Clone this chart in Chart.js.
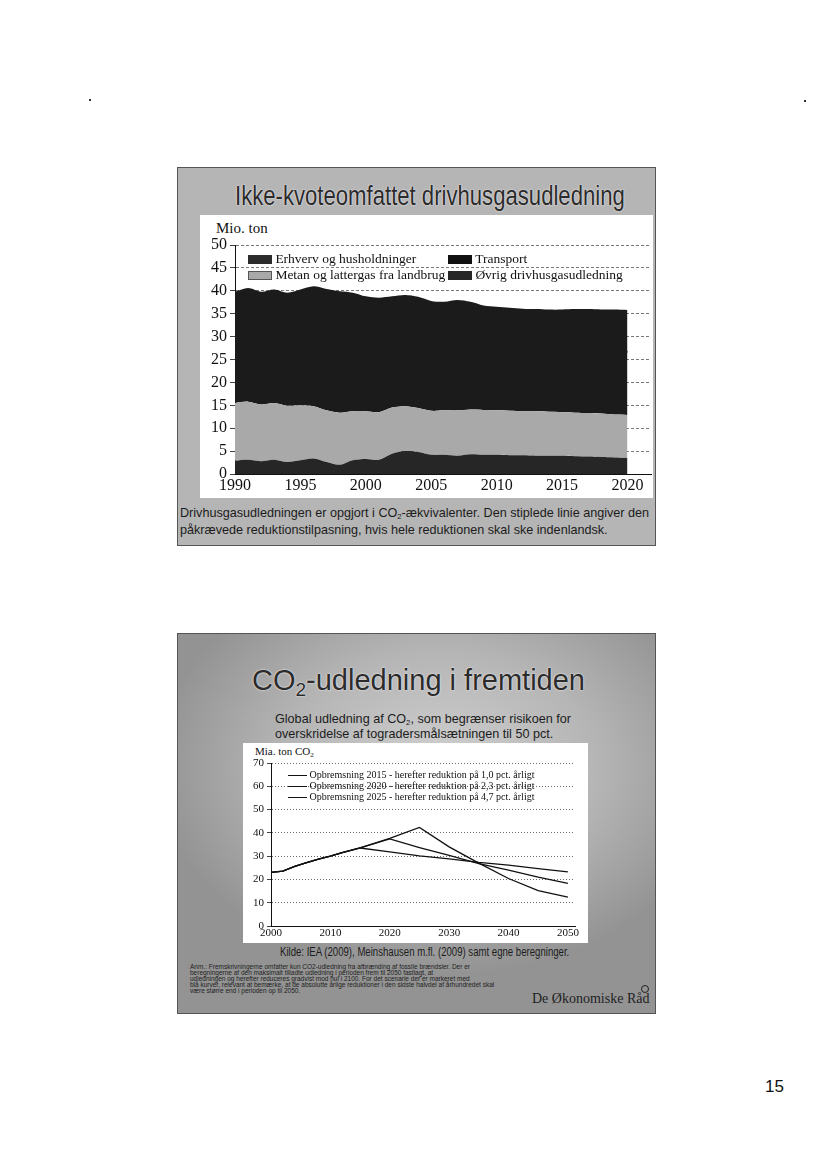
<!DOCTYPE html>
<html>
<head>
<meta charset="utf-8">
<script src="https://cdn.jsdelivr.net/npm/chart.js@4"></script>
<style>
  body { margin: 0; width: 825px; height: 1168px; background: #fff; position: relative; overflow: hidden; font-family: "Liberation Sans", Arial, sans-serif; }
  .abs { position: absolute; }
  .slide1 { left: 177px; top: 167px; width: 479px; height: 379px; background: #b5b5b5; border: 1px solid #555; box-sizing: border-box; }
  .slide2 { left: 177px; top: 633px; width: 479px; height: 381px; border: 1px solid #555; box-sizing: border-box;
    background: radial-gradient(ellipse 60% 55% at 55% 35%, #d0d0d0 0%, #b5b5b5 55%, #939393 100%); }
  .title { color: #2b2b2b; text-shadow: 0 0 2px #eee, 0 0 1px #eee; white-space: nowrap; }
  .white { background: #fff; }
  .serif { font-family: "Liberation Serif", "Times New Roman", serif; color: #111; white-space: nowrap; }
  .sw { display: inline-block; vertical-align: middle; }
  .note { color: #1c1c1c; white-space: nowrap; }
  sub { line-height: 0; vertical-align: -0.3em; }
</style>
</head>
<body>
<!-- slide 1 -->
<div class="abs slide1"></div>
<div class="abs title" style="left:235px;top:180px;font-size:28px;transform:scaleX(0.79);transform-origin:left top;">Ikke-kvoteomfattet drivhusgasudledning</div>
<div class="abs white" style="left:200px;top:215px;width:453px;height:283px;"></div>
<div class="abs serif" style="left:216px;top:220px;font-size:15px;">Mio. ton</div>
<div class="abs" style="left:200px;top:215px;width:453px;height:283px;"><canvas id="topChart"></canvas></div>
<div class="abs serif" style="left:248px;top:251px;font-size:13.5px;line-height:16px;">
  <div><span class="sw" style="width:24px;height:9px;background:#2c2c2c;"></span> Erhverv og husholdninger</div>
  <div><span class="sw" style="width:24px;height:9px;background:#a9a9a9;border:1px solid #555;box-sizing:border-box;"></span> Metan og lattergas fra landbrug</div>
</div>
<div class="abs serif" style="left:448px;top:251px;font-size:13.5px;line-height:16px;">
  <div><span class="sw" style="width:24px;height:9px;background:#111;"></span> Transport</div>
  <div><span class="sw" style="width:24px;height:9px;background:#262626;"></span> Øvrig drivhusgasudledning</div>
</div>
<div class="abs note" style="left:180px;top:504px;font-size:13px;line-height:17px;transform:scaleX(0.97);transform-origin:left top;">Drivhusgasudledningen er opgjort i CO<sub style="font-size:8px">2</sub>-ækvivalenter. Den stiplede linie angiver den<br>påkrævede reduktionstilpasning, hvis hele reduktionen skal ske indenlandsk.</div>

<!-- slide 2 -->
<div class="abs slide2"></div>
<div class="abs title" style="left:252px;top:664px;font-size:29px;">CO<sub style="font-size:19px">2</sub>-udledning i fremtiden</div>
<div class="abs note" style="left:275px;top:711px;font-size:13px;line-height:15px;transform:scaleX(0.97);transform-origin:left top;">Global udledning af CO<sub style="font-size:8px">2</sub>, som begrænser risikoen for<br>overskridelse af togradersmålsætningen til 50 pct.</div>
<div class="abs white" style="left:243px;top:743px;width:345px;height:200px;"></div>
<div class="abs serif" style="left:255px;top:745px;font-size:11px;">Mia. ton CO<sub style="font-size:7px">2</sub></div>
<div class="abs" style="left:243px;top:743px;width:345px;height:200px;"><canvas id="botChart"></canvas></div>
<div class="abs serif" style="left:288px;top:769px;font-size:10px;line-height:11px;">
  <div><span class="sw" style="width:19px;height:1.5px;background:#111;"></span> Opbremsning 2015 - herefter reduktion på 1,0 pct. årligt</div>
  <div><span class="sw" style="width:19px;height:1.5px;background:#111;"></span> Opbremsning 2020 - herefter reduktion på 2,3 pct. årligt</div>
  <div><span class="sw" style="width:19px;height:1.5px;background:#111;"></span> Opbremsning 2025 - herefter reduktion på 4,7 pct. årligt</div>
</div>
<div class="abs note" style="left:280px;top:945px;font-size:12px;transform:scaleX(0.80);transform-origin:left top;">Kilde: IEA (2009), Meinshausen m.fl. (2009) samt egne beregninger.</div>
<div class="abs" style="left:190px;top:964px;font-size:6.5px;line-height:6px;color:#222;white-space:nowrap;">
  Anm.: Fremskrivningerne omfatter kun CO2-udledning fra afbrænding af fossile brændsler. Der er<br>
  beregningerne af den maksimalt tilladte udledning i perioden frem til 2050 fastlagt, at<br>
  udledningen og herefter reduceres gradvist mod nul i 2100. For det scenarie der er markeret med<br>
  blå kurver, relevant at bemærke, at de absolutte årlige reduktioner i den sidste halvdel af århundredet skal<br>
  være større end i perioden op til 2050.
</div>
<div class="abs serif" style="left:532px;top:991px;font-size:14px;color:#222;">De Økonomiske Råd</div>
<div class="abs" style="left:641px;top:985px;width:6px;height:6px;border:1.5px solid #222;border-radius:50%;"></div>

<div class="abs" style="left:765px;top:1077px;font-size:17px;color:#111;">15</div>
<div class="abs" style="left:89px;top:99px;width:2px;height:2px;background:#333;"></div>
<div class="abs" style="left:804px;top:100px;width:2px;height:2px;background:#333;"></div>

<script>
// top chart: ikke-kvoteomfattet udledning, mio. ton
const years = [1990, 1991, 1992, 1993, 1994, 1995, 1996, 1997, 1998, 1999, 2000, 2001, 2002, 2003, 2004, 2005,
  2006, 2007, 2008, 2009, 2010, 2011, 2012, 2013, 2014, 2015, 2016, 2017, 2018, 2019, 2020];
const ovrig = [2.9, 3.1, 2.8, 3.1, 2.6, 3.0, 3.4, 2.6, 2.0, 3.0, 3.3, 3.1, 4.4, 5.0, 4.8, 4.2,
  4.2, 4.0, 4.3, 4.2, 4.2, 4.1, 4.1, 4.0, 4.0, 4.0, 3.9, 3.8, 3.7, 3.6, 3.5];
const metan = [12.6, 12.7, 12.4, 12.4, 12.3, 12.0, 11.4, 11.3, 11.4, 10.7, 10.4, 10.4, 10.1, 9.8, 9.6, 9.6,
  9.7, 9.9, 9.8, 9.8, 9.7, 9.7, 9.6, 9.7, 9.6, 9.5, 9.5, 9.5, 9.5, 9.4, 9.4];
const transport = [10.8, 11.0, 11.2, 11.3, 11.7, 11.9, 12.1, 12.3, 12.4, 12.5, 12.4, 12.4, 12.5, 12.7, 13.0, 13.3,
  13.7, 14.1, 13.9, 13.3, 13.2, 13.2, 13.2, 13.2, 13.3, 13.4, 13.5, 13.6, 13.6, 13.7, 13.8];
const erhverv = [13.5, 13.8, 13.4, 13.5, 13.0, 13.4, 14.1, 14.2, 14.1, 13.4, 12.7, 12.6, 11.8, 11.6, 11.3, 10.7,
  10.0, 10.0, 9.6, 9.5, 9.4, 9.3, 9.2, 9.1, 9.0, 9.0, 9.1, 9.1, 9.1, 9.2, 9.1];

// bottom chart: global CO2, mia. ton
const co2Years = [2000, 2002, 2004, 2006, 2008, 2010, 2012, 2015, 2020, 2025, 2030, 2035, 2040, 2045, 2050];
const stop2015 = [23.0, 23.6, 25.6, 27.2, 28.7, 30.0, 31.5, 33.5, 31.8, 30.1, 28.8, 27.3, 26.1, 24.6, 23.2];
const stop2020 = [23.0, 23.6, 25.6, 27.2, 28.7, 30.0, 31.5, 33.5, 37.4, 33.7, 30.3, 26.8, 24.0, 21.0, 18.3];
const stop2025 = [23.0, 23.6, 25.6, 27.2, 28.7, 30.0, 31.5, 33.5, 37.6, 42.3, 34.0, 27.0, 20.4, 15.2, 12.4];

const serif = "'Liberation Serif', 'Times New Roman', serif";
const pts = (xs, ys) => xs.map((x, i) => ({ x: x, y: ys[i] }));

// dark layers get a thin border in their own colour so no light seam shows between them
function area(label, data, color, fill, edge) {
  return { label: label, data: pts(years, data), backgroundColor: color, borderColor: color,
    borderWidth: edge, pointRadius: 0, fill: fill, tension: 0.3 };
}

new Chart(document.getElementById('topChart'), {
  type: 'line',
  data: {
    datasets: [
      area('Øvrig drivhusgasudledning', ovrig, '#262626', 'origin', 0),
      area('Metan og lattergas fra landbrug', metan, '#a9a9a9', '-1', 0),
      area('Transport', transport, '#1b1b1b', '-1', 2),
      area('Erhverv og husholdninger', erhverv, '#1b1b1b', '-1', 0)
    ]
  },
  options: {
    responsive: true,
    maintainAspectRatio: false,
    animation: false,
    layout: { padding: { top: 30, right: 2, left: 0, bottom: 0 } },
    plugins: { legend: { display: false }, tooltip: { enabled: false } },
    scales: {
      x: {
        type: 'linear', min: 1990, max: 2021.8,
        afterFit: s => { s.height = 24; },
        ticks: { stepSize: 5, includeBounds: false, maxRotation: 0, padding: 2, color: '#111',
          font: { family: serif, size: 16 }, callback: v => String(v) },
        grid: { display: false, drawTicks: false },
        border: { color: '#111', width: 1 }
      },
      y: {
        stacked: true, min: 0, max: 50,
        afterFit: s => { s.width = 35; },
        ticks: { stepSize: 5, padding: 3, color: '#111', font: { family: serif, size: 16 } },
        grid: { color: '#555', lineWidth: 0.8, tickLength: 5, tickColor: '#111' },
        border: { color: '#111', width: 1, dash: [3, 2] }
      }
    }
  }
});

function line(label, data) {
  return { label: label, data: pts(co2Years, data), borderColor: '#111', borderWidth: 1.3,
    pointRadius: 0, fill: false, tension: 0 };
}

new Chart(document.getElementById('botChart'), {
  type: 'line',
  data: {
    datasets: [
      line('Opbremsning 2015 - herefter reduktion på 1,0 pct. årligt', stop2015),
      line('Opbremsning 2020 - herefter reduktion på 2,3 pct. årligt', stop2020),
      line('Opbremsning 2025 - herefter reduktion på 4,7 pct. årligt', stop2025)
    ]
  },
  options: {
    responsive: true,
    maintainAspectRatio: false,
    animation: false,
    layout: { padding: { top: 20, right: 13, left: 0, bottom: 0 } },
    plugins: { legend: { display: false }, tooltip: { enabled: false } },
    scales: {
      x: {
        type: 'linear', min: 2000, max: 2051.2,
        afterFit: s => { s.height = 17; },
        ticks: { stepSize: 10, includeBounds: false, maxRotation: 0, padding: 1, color: '#111',
          font: { family: serif, size: 11 }, callback: v => String(v) },
        grid: { display: false, drawTicks: false },
        border: { color: '#111', width: 1 }
      },
      y: {
        min: 0, max: 70,
        afterFit: s => { s.width = 28; },
        ticks: { stepSize: 10, padding: 3, color: '#111', font: { family: serif, size: 11 } },
        grid: { color: '#444', lineWidth: 0.8, tickLength: 4, tickColor: '#111' },
        border: { color: '#111', width: 1, dash: [1, 2] }
      }
    }
  }
});
</script>
</body>
</html>
